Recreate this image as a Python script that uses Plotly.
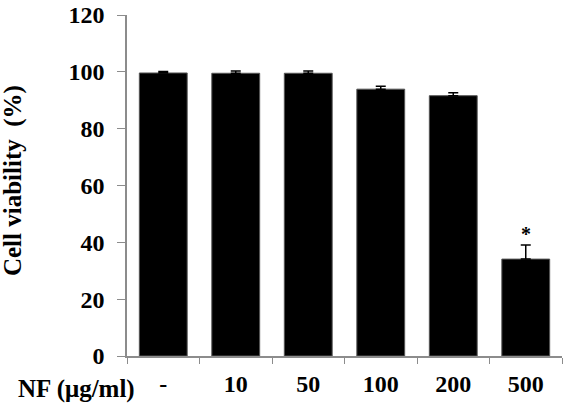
import plotly.graph_objects as go

categories = ["-", "10", "50", "100", "200", "500"]
viability = [99.6, 99.5, 99.5, 93.9, 91.6, 34.1]
errors = [0.5, 0.8, 0.8, 1.0, 1.0, 5.0]
significance = ["", "", "", "", "", "*"]

font_family = "Liberation Serif, Times New Roman, serif"
axis_color = "#8c8c8c"

fig = go.Figure()
fig.add_trace(go.Bar(
    x=categories,
    y=viability,
    marker=dict(color="black", line=dict(color="#555555", width=1)),
    width=0.66,
    error_y=dict(type="data", array=errors, arrayminus=[0] * len(errors),
                 symmetric=False, color="black", thickness=1.5, width=5),
))

for i, (v, e, s) in enumerate(zip(viability, errors, significance)):
    if s:
        fig.add_annotation(x=i, y=v + e, text=f"<b>{s}</b>", showarrow=False,
                           yanchor="bottom", yshift=-2,
                           font=dict(family=font_family, size=20, color="black"))

fig.add_annotation(xref="paper", yref="paper", x=0.022, y=-0.098,
                   xanchor="right", yanchor="middle",
                   text="<b>NF (μg/ml)</b>", showarrow=False,
                   font=dict(family=font_family, size=25, color="black"))

fig.add_annotation(xref="paper", yref="paper", x=-0.262, y=0.513,
                   xanchor="center", yanchor="middle", textangle=-90,
                   text="<b>Cell viability  (%)</b>", showarrow=False,
                   font=dict(family=font_family, size=25, color="black"))

fig.update_layout(
    width=580, height=405,
    margin=dict(l=127, r=18, t=15, b=49, autoexpand=False),
    plot_bgcolor="white", paper_bgcolor="white",
    showlegend=False,
    font=dict(family=font_family, size=24, color="black"),
    bargap=0.34,
)
fig.update_xaxes(
    type="category", range=[-0.5, 5.5], automargin=False,
    showline=True, linecolor=axis_color, linewidth=1.5,
    ticks="outside", tickson="boundaries", ticklen=6, tickcolor=axis_color,
    ticklabelstandoff=5,
    tickfont=dict(family=font_family, size=24, color="black", weight="bold"),
    showgrid=False, zeroline=False,
)
fig.update_yaxes(
    range=[0, 120], tickvals=[0, 20, 40, 60, 80, 100, 120], automargin=False,
    showline=True, linecolor=axis_color, linewidth=1.5,
    ticks="outside", ticklen=8, tickcolor=axis_color,
    ticklabelstandoff=8,
    tickfont=dict(family=font_family, size=24, color="black", weight="bold"),
    showgrid=False, zeroline=False,
)

fig.write_html("out.html")
